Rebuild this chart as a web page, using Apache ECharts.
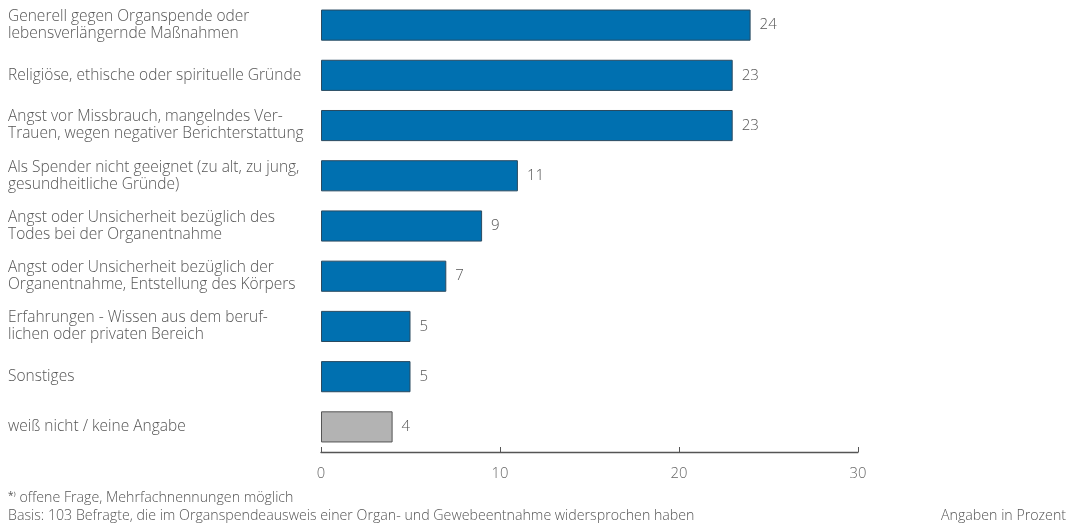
<!DOCTYPE html>
<html><head><meta charset="utf-8">
<script src="https://cdn.jsdelivr.net/npm/echarts@6/dist/echarts.min.js"></script>
<style>html,body{margin:0;padding:0;background:#fff}#c{width:1072px;height:526px}</style>
</head><body><div id="c"></div>
<script>
const categories = [
  "Generell gegen Organspende oder\nlebensverlängernde Maßnahmen",
  "Religiöse, ethische oder spirituelle Gründe",
  "Angst vor Missbrauch, mangelndes Ver-\nTrauen, wegen negativer Berichterstattung",
  "Als Spender nicht geeignet (zu alt, zu jung,\ngesundheitliche Gründe)",
  "Angst oder Unsicherheit bezüglich des\nTodes bei der Organentnahme",
  "Angst oder Unsicherheit bezüglich der\nOrganentnahme, Entstellung des Körpers",
  "Erfahrungen - Wissen aus dem beruf-\nlichen oder privaten Bereich",
  "Sonstiges",
  "weiß nicht / keine Angabe"
];
const values = [24, 23, 23, 11, 9, 7, 5, 5, 4];
const grayCategories = ["weiß nicht / keine Angabe"];
const xTicks = [0, 10, 20, 30];

const font = "'Open Sans', sans-serif";
const fw = 300;
const chart = echarts.init(document.getElementById('c'), null, {renderer: 'canvas'});
chart.setOption({
  animation: false,
  textStyle: {fontFamily: font},
  grid: {left: 321, right: 214, top: 0, bottom: 74, containLabel: false},
  xAxis: {
    type: 'value', min: 0, max: 30, interval: 10,
    axisLine: {show: true, lineStyle: {color: '#555', width: 1.3}},
    axisTick: {show: true, inside: true, length: 5, lineStyle: {color: '#555'}},
    splitLine: {show: false},
    axisLabel: {color: '#666', fontSize: 14.8, margin: 14, fontFamily: font, fontWeight: fw,
      formatter: v => xTicks.includes(v) ? String(v) : ''}
  },
  yAxis: {
    type: 'category', data: categories, inverse: true,
    axisLine: {show: false}, axisTick: {show: false},
    axisLabel: {align: 'left', margin: 313, color: '#555', fontSize: 15.5, lineHeight: 17, fontFamily: font, fontWeight: fw}
  },
  series: [{
    type: 'bar',
    barWidth: '62%',
    data: values.map((v, i) => ({
      value: v,
      itemStyle: grayCategories.includes(categories[i])
        ? {color: '#b3b3b3', borderColor: '#555', borderWidth: 1}
        : {color: '#0070b0', borderColor: '#2a4a60', borderWidth: 1}
    })),
    label: {show: true, position: 'right', distance: 9, color: '#555', fontSize: 15, fontFamily: font, fontWeight: fw}
  }],
  graphic: [
    {type: 'text', left: 8, top: 491, style: {
      text: '{sup|*⁾} offene Frage, Mehrfachnennungen möglich',
      rich: {sup: {fontSize: 10, verticalAlign: 'top', fill: '#555', fontFamily: font, padding: [0,0,4,0]}},
      fontSize: 14.2, fill: '#555', fontFamily: font, fontWeight: fw}},
    {type: 'text', left: 8, top: 509, style: {
      text: 'Basis: 103 Befragte, die im Organspendeausweis einer Organ- und Gewebeentnahme widersprochen haben',
      fontSize: 14.2, fill: '#555', fontFamily: font, fontWeight: fw}},
    {type: 'text', right: 6, top: 509, style: {
      text: 'Angaben in Prozent', fontSize: 14.2, fill: '#555', fontFamily: font, fontWeight: fw}}
  ]
});
</script></body></html>
